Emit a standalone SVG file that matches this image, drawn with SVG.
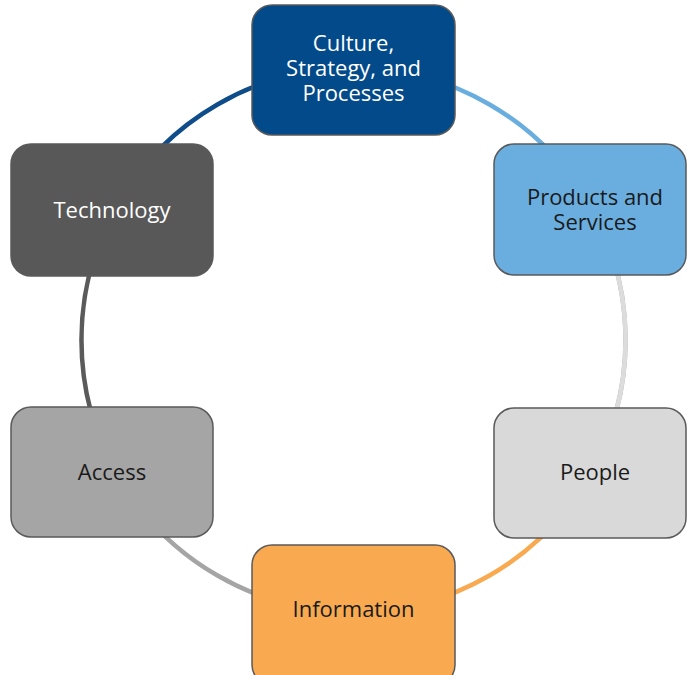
<svg xmlns="http://www.w3.org/2000/svg" width="687" height="675" viewBox="0 0 687 675">
  <style>
    .box { stroke: #5a5a5a; stroke-width: 1.5; }
    .arc { fill: none; stroke-width: 4.5; }
    .lbl { font-family: "Open Sans", "DejaVu Sans", sans-serif; font-size: 22px; text-anchor: middle; }
    .light { fill: #ffffff; }
    .dark { fill: #1a1a1a; }
  </style>
  <rect width="687" height="675" fill="#ffffff"/>

  <!-- ring connectors, clockwise from the top node -->
  <g id="connectors">
    <path class="arc" stroke="#6aaee0" d="M353.5,68 A272,272 0 0 1 589.1,204"/>
    <path class="arc" stroke="#a8a8a8" stroke-width="5" d="M589.1,204 A272,272 0 0 1 589.1,476"/>
    <path class="arc" stroke="#dcdcdc" stroke-width="3" d="M589.1,204 A272,272 0 0 1 589.1,476"/>
    <path class="arc" stroke="#f9aa50" d="M589.1,476 A272,272 0 0 1 353.5,612"/>
    <path class="arc" stroke="#a5a5a5" d="M353.5,612 A272,272 0 0 1 117.9,476"/>
    <path class="arc" stroke="#5a5a5a" d="M117.9,476 A272,272 0 0 1 117.9,204"/>
    <path class="arc" stroke="#0e4c8a" d="M117.9,204 A272,272 0 0 1 353.5,68"/>
  </g>

  <g id="culture">
    <rect class="box" x="252" y="5" width="203" height="130" rx="20" fill="#034a8a"/>
    <text class="lbl light" x="353.5" y="51">Culture,</text>
    <text class="lbl light" x="353.5" y="76">Strategy, and</text>
    <text class="lbl light" x="353.5" y="101">Processes</text>
  </g>

  <g id="products">
    <rect class="box" x="494" y="144" width="192" height="131" rx="20" fill="#6aaee0"/>
    <text class="lbl dark" x="595" y="205">Products and</text>
    <text class="lbl dark" x="595" y="230">Services</text>
  </g>

  <g id="people">
    <rect class="box" x="494" y="408" width="192" height="130" rx="20" fill="#d9d9d9"/>
    <text class="lbl dark" x="595" y="480">People</text>
  </g>

  <g id="information">
    <rect class="box" x="252" y="545" width="203" height="140" rx="20" fill="#f9aa50"/>
    <text class="lbl dark" x="353.5" y="617">Information</text>
  </g>

  <g id="access">
    <rect class="box" x="11" y="407" width="202" height="130" rx="20" fill="#a5a5a5"/>
    <text class="lbl dark" x="112" y="480">Access</text>
  </g>

  <g id="technology">
    <rect class="box" x="11" y="144" width="202" height="132" rx="20" fill="#585858"/>
    <text class="lbl light" x="112" y="218">Technology</text>
  </g>
</svg>
